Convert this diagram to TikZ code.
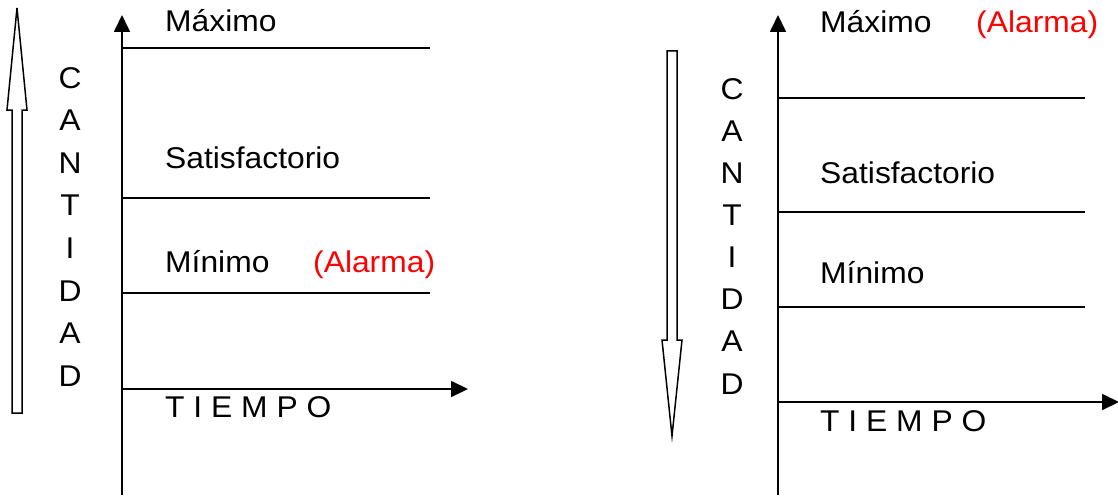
\documentclass[tikz,border=0pt]{standalone}
\usepackage{fontspec}
\setmainfont{Liberation Sans}[FakeStretch=1.06]
\usetikzlibrary{arrows.meta}
\tikzset{
  axis/.style={line width=1.7pt, -{Triangle[length=17pt,width=16pt]}},
  level/.style={line width=1.7pt},
  lbl/.style={anchor=base west, inner sep=0pt, font=\fontsize{30}{36}\selectfont},
  alarm/.style={lbl, text=red},
  vletter/.style={anchor=base, inner sep=0pt, font=\fontsize{30}{36}\selectfont},
  hollow/.style={draw=black, fill=white, line width=1.5pt, line join=miter}
}
\begin{document}
\begin{tikzpicture}[x=1pt,y=-1pt]
\useasboundingbox (0,0) rectangle (1118,495);

% ---------- left panel: quantity rising ----------
\draw[hollow] (12,413) -- (12,110) -- (7,110) -- (17,8) -- (27,110) -- (22,110) -- (22,413) -- cycle;
\foreach \c [count=\i from 0] in {C,A,N,T,I,D,A,D}
  \node[vletter] (lv\i) at (70,{88+\i*42.6}) {\c};

\coordinate (lo) at (122,495);
\coordinate (ltop) at (122,15);
\coordinate (lorig) at (122,389);
\coordinate (lxend) at (468,389);
\draw[axis] (lo) -- (ltop);
\draw[axis] (lorig) -- (lxend);

\coordinate (lmaxA) at (122,48);  \coordinate (lmaxB) at (430,48);
\coordinate (lsatA) at (122,198); \coordinate (lsatB) at (430,198);
\coordinate (lminA) at (122,293); \coordinate (lminB) at (430,293);
\draw[level] (lmaxA) -- (lmaxB);
\draw[level] (lsatA) -- (lsatB);
\draw[level] (lminA) -- (lminB);

\node[lbl] (lmax) at (165,32) {Máximo};
\node[lbl] (lsat) at (165,168) {Satisfactorio};
\node[lbl] (lmin) at (165,272) {Mínimo};
\node[alarm] (lalarm) at (313,272) {(Alarma)};
\node[lbl] (ltime) at (165,417) {T I E M P O};

% ---------- right panel: quantity falling ----------
\draw[hollow] (667,51) -- (667,340) -- (662,340) -- (672,436) -- (682,340) -- (677,340) -- (677,51) -- cycle;
\foreach \c [count=\i from 0] in {C,A,N,T,I,D,A,D}
  \node[vletter] (rv\i) at (732,{99+\i*42.15}) {\c};

\coordinate (ro) at (778,495);
\coordinate (rtop) at (778,15);
\coordinate (rorig) at (778,402);
\coordinate (rxend) at (1119,402);
\draw[axis] (ro) -- (rtop);
\draw[axis] (rorig) -- (rxend);

\coordinate (rmaxA) at (778,98);  \coordinate (rmaxB) at (1085,98);
\coordinate (rsatA) at (778,212); \coordinate (rsatB) at (1085,212);
\coordinate (rminA) at (778,307); \coordinate (rminB) at (1085,307);
\draw[level] (rmaxA) -- (rmaxB);
\draw[level] (rsatA) -- (rsatB);
\draw[level] (rminA) -- (rminB);

\node[lbl] (rmax) at (820,33) {Máximo};
\node[alarm] (ralarm) at (976,33) {(Alarma)};
\node[lbl] (rsat) at (820,183) {Satisfactorio};
\node[lbl] (rmin) at (820,283) {Mínimo};
\node[lbl] (rtime) at (820,431) {T I E M P O};
\end{tikzpicture}
\end{document}
